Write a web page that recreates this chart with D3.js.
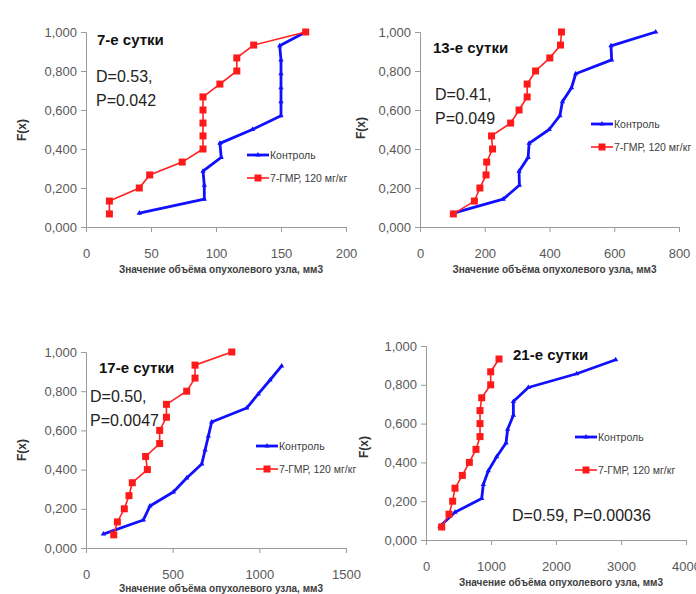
<!DOCTYPE html>
<html>
<head>
<meta charset="utf-8">
<script src="https://cdn.jsdelivr.net/npm/d3@7"></script>
<style>
body { margin: 0; background: #fff; }
svg text { font-family: "Liberation Sans", Arial, sans-serif; }
</style>
</head>
<body>
<div id="chart"></div>
<script>
// series: x = tumour volume (mm3), F = cumulative share
var day7ControlX = [41, 91, 91, 90, 104, 103, 128, 150, 150, 150, 150, 150, 149, 169];
var day7ControlF = [0.071, 0.143, 0.214, 0.286, 0.357, 0.429, 0.500, 0.571, 0.643, 0.714, 0.786, 0.857, 0.929, 1.000];
var day7DrugX = [18, 18, 41, 49, 74, 90, 90, 90, 90, 90, 103, 116, 116, 129, 169];
var day7DrugF = [0.067, 0.133, 0.200, 0.267, 0.333, 0.400, 0.467, 0.533, 0.600, 0.667, 0.733, 0.800, 0.867, 0.933, 1.000];

var day13ControlX = [103, 257, 307, 306, 334, 337, 399, 432, 440, 468, 481, 592, 590, 728];
var day13ControlF = [0.071, 0.143, 0.214, 0.286, 0.357, 0.429, 0.500, 0.571, 0.643, 0.714, 0.786, 0.857, 0.929, 1.000];
var day13DrugX = [103, 168, 185, 204, 206, 224, 221, 280, 306, 331, 331, 357, 401, 434, 437];
var day13DrugF = [0.067, 0.133, 0.200, 0.267, 0.333, 0.400, 0.467, 0.533, 0.600, 0.667, 0.733, 0.800, 0.867, 0.933, 1.000];

var day17ControlX = [100, 331, 369, 504, 581, 668, 687, 706, 725, 927, 994, 1062, 1129];
var day17ControlF = [0.071, 0.143, 0.214, 0.286, 0.357, 0.429, 0.500, 0.571, 0.643, 0.714, 0.786, 0.857, 0.929];
var day17DrugX = [160, 181, 221, 248, 267, 354, 344, 425, 425, 464, 464, 581, 629, 629, 841];
var day17DrugF = [0.067, 0.133, 0.200, 0.267, 0.333, 0.400, 0.467, 0.533, 0.600, 0.667, 0.733, 0.800, 0.867, 0.933, 1.000];

var day21ControlX = [215, 446, 857, 882, 959, 1087, 1231, 1256, 1344, 1344, 1574, 2318, 2918];
var day21ControlF = [0.071, 0.143, 0.214, 0.286, 0.357, 0.429, 0.500, 0.571, 0.643, 0.714, 0.786, 0.857, 0.929];
var day21DrugX = [241, 354, 410, 446, 559, 667, 769, 831, 831, 831, 857, 995, 995, 1123];
var day21DrugF = [0.067, 0.133, 0.200, 0.267, 0.333, 0.400, 0.467, 0.533, 0.600, 0.667, 0.733, 0.800, 0.867, 0.933];

var yTicks = [0, 0.2, 0.4, 0.6, 0.8, 1.0];
var seriesNames = ["Контроль", "7-ГМР, 120 мг/кг"];
var xTitle = "Значение объёма опухолевого узла, мм3";

var ruFmt = d3.formatLocale({decimal: ",", thousands: " ", grouping: [3], currency: ["", ""]}).format(".3f");

var svg = d3.select("#chart").append("svg")
    .attr("width", 696)
    .attr("height", 594);

function zip(xs, fs) {
    return xs.map(function (x, i) { return [x, fs[i]]; });
}

function drawPanel(p) {
    var x = d3.scaleLinear().domain([0, p.xMax]).range([p.left, p.right]);
    var y = d3.scaleLinear().domain([0, 1]).range([p.bottom, p.top]);
    var g = svg.append("g");

    var yAxis = g.append("g")
        .attr("transform", "translate(" + p.left + ",0)")
        .call(d3.axisLeft(y).tickValues(yTicks).tickFormat(ruFmt).tickSize(5).tickPadding(4));
    var xAxis = g.append("g")
        .attr("transform", "translate(0," + p.bottom + ")")
        .call(d3.axisBottom(x).tickValues(p.xTicks).tickFormat(d3.format("d")).tickSize(5).tickPadding(17));
    [yAxis, xAxis].forEach(function (a) {
        a.select(".domain").attr("stroke", "#9a9a9a");
        a.selectAll(".tick line").attr("stroke", "#9a9a9a");
        a.selectAll(".tick text").attr("fill", "#595959").style("font-size", "13px");
    });

    g.append("text")
        .attr("transform", "translate(" + p.fxX + "," + p.fxY + ") rotate(-90)")
        .attr("text-anchor", "middle")
        .style("font-size", "12px").style("font-weight", "bold")
        .attr("fill", "#333")
        .text("F(x)");

    g.append("text")
        .attr("x", (p.left + p.right) / 2 + 5)
        .attr("y", p.titleY)
        .attr("text-anchor", "middle")
        .style("font-size", "10px").style("font-weight", "bold")
        .attr("fill", "#404040")
        .text(xTitle);

    var line = d3.line().x(function (d) { return x(d[0]); }).y(function (d) { return y(d[1]); });

    var ctrl = zip(p.cx, p.cf);
    var drug = zip(p.dx, p.df);

    g.append("path").datum(ctrl)
        .attr("d", line).attr("fill", "none")
        .attr("stroke", "#1010ff").attr("stroke-width", 2.8)
        .attr("stroke-linejoin", "round");
    g.selectAll(".tri").data(ctrl).enter().append("path")
        .attr("d", d3.symbol().type(d3.symbolTriangle).size(12))
        .attr("transform", function (d) { return "translate(" + x(d[0]) + "," + y(d[1]) + ")"; })
        .attr("fill", "#1010ff");

    g.append("path").datum(drug)
        .attr("d", line).attr("fill", "none")
        .attr("stroke", "#ff2020").attr("stroke-width", 1.6);
    g.selectAll(".sq").data(drug).enter().append("rect")
        .attr("x", function (d) { return x(d[0]) - 3.5; })
        .attr("y", function (d) { return y(d[1]) - 3.5; })
        .attr("width", 7).attr("height", 7)
        .attr("fill", "#ff1a1a");

    // legend
    var lg = g.append("g").attr("transform", "translate(" + p.legX + "," + p.legY + ")");
    lg.append("line").attr("x1", 0).attr("x2", 22).attr("y1", 0).attr("y2", 0)
        .attr("stroke", "#1010ff").attr("stroke-width", 2.8);
    lg.append("path").attr("d", d3.symbol().type(d3.symbolTriangle).size(12))
        .attr("transform", "translate(11,0)").attr("fill", "#1010ff");
    lg.append("line").attr("x1", 0).attr("x2", 22).attr("y1", p.legGap).attr("y2", p.legGap)
        .attr("stroke", "#ff2020").attr("stroke-width", 1.6);
    lg.append("rect").attr("x", 7.5).attr("y", p.legGap - 3.5).attr("width", 7).attr("height", 7)
        .attr("fill", "#ff1a1a");
    lg.selectAll("text").data(seriesNames).enter().append("text")
        .attr("x", 23)
        .attr("y", function (d, i) { return i * p.legGap; })
        .attr("dy", ".35em")
        .style("font-size", "10.5px")
        .attr("fill", "#404040")
        .text(function (d) { return d; });

    g.append("text")
        .attr("x", p.headX).attr("y", p.headY)
        .style("font-size", "15px").style("font-weight", "bold")
        .attr("fill", "#111")
        .text(p.head);

    p.stats.forEach(function (s, i) {
        g.append("text")
            .attr("x", p.statX).attr("y", p.statY + i * 24)
            .style("font-size", "16px")
            .attr("fill", "#222")
            .text(s);
    });
}

drawPanel({
    left: 86, right: 346, top: 32, bottom: 227, xMax: 200, xTicks: [0, 50, 100, 150, 200],
    cx: day7ControlX, cf: day7ControlF, dx: day7DrugX, df: day7DrugF,
    fxX: 26, fxY: 130, titleY: 273,
    legX: 247, legY: 155, legGap: 23,
    head: "7-е сутки", headX: 97, headY: 45,
    stats: ["D=0.53,", "P=0.042"], statX: 96, statY: 82
});
drawPanel({
    left: 420, right: 679, top: 32, bottom: 227, xMax: 800, xTicks: [0, 200, 400, 600, 800],
    cx: day13ControlX, cf: day13ControlF, dx: day13DrugX, df: day13DrugF,
    fxX: 365, fxY: 128, titleY: 273,
    legX: 591, legY: 124, legGap: 23,
    head: "13-е сутки", headX: 433, headY: 53,
    stats: ["D=0.41,", "P=0.049"], statX: 435, statY: 100
});
drawPanel({
    left: 86, right: 346, top: 352, bottom: 548, xMax: 1500, xTicks: [0, 500, 1000, 1500],
    cx: day17ControlX, cf: day17ControlF, dx: day17DrugX, df: day17DrugF,
    fxX: 26, fxY: 450, titleY: 592,
    legX: 256, legY: 446, legGap: 23,
    head: "17-е сутки", headX: 99, headY: 373,
    stats: ["D=0.50,", "P=0.0047"], statX: 90, statY: 402
});
drawPanel({
    left: 426, right: 686, top: 346, bottom: 540, xMax: 4000, xTicks: [0, 1000, 2000, 3000, 4000],
    cx: day21ControlX, cf: day21ControlF, dx: day21DrugX, df: day21DrugF,
    fxX: 368, fxY: 447, titleY: 586,
    legX: 575, legY: 437, legGap: 33,
    head: "21-е сутки", headX: 513, headY: 360,
    stats: ["D=0.59, P=0.00036"], statX: 512, statY: 521
});
</script>
</body>
</html>
